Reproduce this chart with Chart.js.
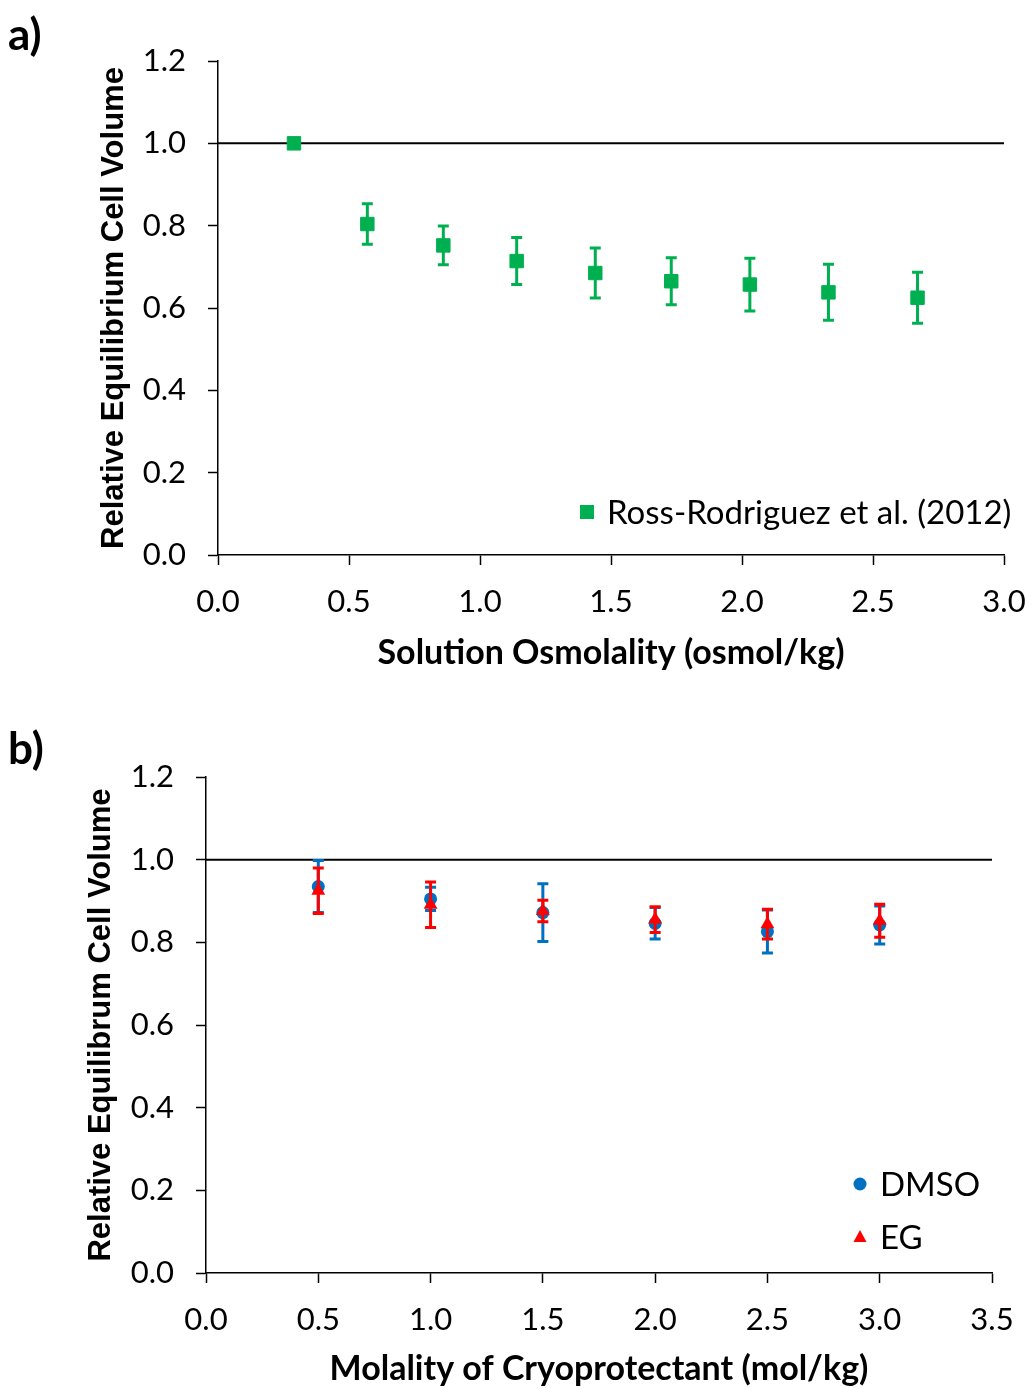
<!DOCTYPE html>
<html>
<head>
<meta charset="utf-8">
<script src="https://cdn.jsdelivr.net/npm/chart.js@4.4.0/dist/chart.umd.min.js"></script>
<style>
  html, body { margin: 0; padding: 0; background: #fff; }
  .panel { position: absolute; left: 0; width: 1032px; }
  #panelA { top: 0; height: 694px; }
  #panelB { top: 694px; height: 695px; }
</style>
</head>
<body>
<div class="panel" id="panelA"><canvas id="chartA" width="1032" height="694"></canvas></div>
<div class="panel" id="panelB"><canvas id="chartB" width="1032" height="695"></canvas></div>
<script>
// Panel a: equilibrium volume vs. osmolality
var osmolality = [0.29, 0.57, 0.86, 1.14, 1.44, 1.73, 2.03, 2.33, 2.67];
var volumeRR = [1.00, 0.804, 0.752, 0.714, 0.685, 0.665, 0.657, 0.638, 0.625];
var volumeRRErr = [0, 0.049, 0.047, 0.057, 0.061, 0.057, 0.064, 0.068, 0.062];

// Panel b: equilibrium volume vs. cryoprotectant molality
var molality = [0.5, 1.0, 1.5, 2.0, 2.5, 3.0];
var volumeDMSO = [0.935, 0.905, 0.872, 0.846, 0.826, 0.842];
var volumeDMSOErr = [0.063, 0.028, 0.070, 0.038, 0.052, 0.046];
var volumeEG = [0.925, 0.891, 0.876, 0.855, 0.844, 0.852];
var volumeEGErr = [0.055, 0.055, 0.026, 0.031, 0.036, 0.040];

var isoVolume = 1.0;

var green = '#00B050';
var blue = '#0070C0';
var red = '#FF0000';
var tickFont = { family: 'Lato', size: 31 };
var xTitleFont = { family: 'Lato', size: 34, weight: 'bold' };
var yTitleFont = { family: '"Liberation Sans", Arial, sans-serif', size: 31, weight: 'bold' };

function toPoints(xs, ys) {
  return xs.map(function(x, i) { return { x: x, y: ys[i] }; });
}

// error bars under each series, reference line, legend and panel letter
var decorPlugin = {
  id: 'decor',
  beforeDatasetsDraw: function(chart) {
    var c = chart.ctx, area = chart.chartArea;
    var y = chart.scales.y.getPixelForValue(isoVolume);
    c.save();
    c.strokeStyle = '#000';
    c.lineWidth = 2;
    c.beginPath();
    c.moveTo(area.left, y);
    c.lineTo(area.right, y);
    c.stroke();
    c.restore();
  },
  beforeDatasetDraw: function(chart, args) {
    var ds = chart.data.datasets[args.index];
    if (!ds.errors) return;
    var c = chart.ctx;
    var xs = chart.scales.x, ys = chart.scales.y;
    c.save();
    c.strokeStyle = ds.backgroundColor;
    c.lineWidth = 3;
    ds.data.forEach(function(p, i) {
      var e = ds.errors[i];
      if (!e) return;
      var px = xs.getPixelForValue(p.x);
      var top = ys.getPixelForValue(p.y + e);
      var bot = ys.getPixelForValue(p.y - e);
      c.beginPath();
      c.moveTo(px, top); c.lineTo(px, bot);
      c.moveTo(px - 5.5, top); c.lineTo(px + 5.5, top);
      c.moveTo(px - 5.5, bot); c.lineTo(px + 5.5, bot);
      c.stroke();
    });
    c.restore();
  },
  afterDraw: function(chart, args, opts) {
    var c = chart.ctx, area = chart.chartArea;
    c.save();
    c.fillStyle = '#000';
    c.font = 'bold 44px Lato';
    c.textBaseline = 'middle';
    c.textAlign = 'left';
    c.fillText(opts.letter, 8, opts.letterY);

    c.font = '33px Lato';
    var rowY = area.bottom - opts.legendBottom;
    var items = chart.data.datasets.slice().sort(function(a, b) { return a.legendRank - b.legendRank; });
    for (var i = items.length - 1; i >= 0; i--) {
      var ds = items[i];
      var mx = area.right - opts.legendRight;
      c.fillStyle = ds.backgroundColor;
      c.beginPath();
      if (ds.pointStyle === 'rect') {
        c.rect(mx - 7, rowY - 7, 14, 14);
      } else if (ds.pointStyle === 'triangle') {
        c.moveTo(mx, rowY - 7);
        c.lineTo(mx + 6.5, rowY + 5);
        c.lineTo(mx - 6.5, rowY + 5);
        c.closePath();
      } else {
        c.arc(mx, rowY, 6.5, 0, Math.PI * 2);
      }
      c.fill();
      c.fillStyle = '#000';
      c.fillText(ds.label, mx + 20, rowY + 1);
      rowY -= opts.legendGap;
    }
    c.restore();
  }
};

function axes(xMax, yWidth, xHeight, xTitle, yTitle, yTitlePad, xTitlePad) {
  var grid = {
    drawOnChartArea: false,
    drawTicks: true,
    tickLength: 10,
    tickColor: '#000',
    tickWidth: 1.5
  };
  return {
    x: {
      type: 'linear',
      min: 0,
      max: xMax,
      grid: grid,
      border: { color: '#000', width: 1.5 },
      ticks: {
        stepSize: 0.5,
        color: '#000',
        font: tickFont,
        padding: 18,
        maxRotation: 0,
        callback: function(v) { return v.toFixed(1); }
      },
      title: { display: true, text: xTitle, color: '#000', font: xTitleFont, padding: { top: 0, bottom: xTitlePad } },
      afterFit: function(s) {
        s.height = xHeight;
        s.paddingLeft = 0;
        s.paddingRight = 0;
      }
    },
    y: {
      min: 0,
      max: 1.2,
      grid: grid,
      border: { color: '#000', width: 1.5 },
      ticks: {
        stepSize: 0.2,
        color: '#000',
        font: tickFont,
        padding: 22,
        callback: function(v) { return v.toFixed(1); }
      },
      title: { display: true, text: yTitle, color: '#000', font: yTitleFont, padding: { top: yTitlePad, bottom: 0 } },
      afterFit: function(s) {
        s.width = yWidth;
        s.paddingTop = 0;
        s.paddingBottom = 0;
      }
    }
  };
}

new Chart(document.getElementById('chartA'), {
  type: 'scatter',
  data: {
    datasets: [{
      label: 'Ross-Rodriguez et al. (2012)',
      data: toPoints(osmolality, volumeRR),
      errors: volumeRRErr,
      legendRank: 0,
      backgroundColor: green,
      borderColor: green,
      pointStyle: 'rect',
      pointRadius: 9.5,
      pointBorderWidth: 1
    }]
  },
  options: {
    responsive: false,
    animation: false,
    layout: { padding: { top: 61, right: 28, left: 0, bottom: 0 } },
    plugins: {
      legend: { display: false },
      tooltip: { enabled: false },
      decor: { letter: 'a)', letterY: 36, legendRight: 417, legendBottom: 43, legendGap: 53 }
    },
    scales: axes(3, 218, 694 - 555, 'Solution Osmolality (osmol/kg)', 'Relative Equilibrium Cell Volume', 96, 21)
  },
  plugins: [decorPlugin]
});

new Chart(document.getElementById('chartB'), {
  type: 'scatter',
  data: {
    datasets: [{
      label: 'DMSO',
      data: toPoints(molality, volumeDMSO),
      errors: volumeDMSOErr,
      legendRank: 0,
      order: 1,
      backgroundColor: blue,
      borderColor: blue,
      pointStyle: 'circle',
      pointRadius: 6.5,
      pointBorderWidth: 0
    }, {
      label: 'EG',
      data: toPoints(molality, volumeEG),
      errors: volumeEGErr,
      legendRank: 1,
      order: 0,
      backgroundColor: red,
      borderColor: red,
      pointStyle: 'triangle',
      pointRadius: 8,
      pointBorderWidth: 0
    }]
  },
  options: {
    responsive: false,
    animation: false,
    layout: { padding: { top: 83, right: 40, left: 0, bottom: 0 } },
    plugins: {
      legend: { display: false },
      tooltip: { enabled: false },
      decor: { letter: 'b)', letterY: 56, legendRight: 132, legendBottom: 36, legendGap: 53 }
    },
    scales: axes(3.5, 206, 695 - 579, 'Molality of Cryoprotectant (mol/kg)', 'Relative Equilibrum Cell Volume', 83, 0)
  },
  plugins: [decorPlugin]
});
</script>
</body>
</html>
